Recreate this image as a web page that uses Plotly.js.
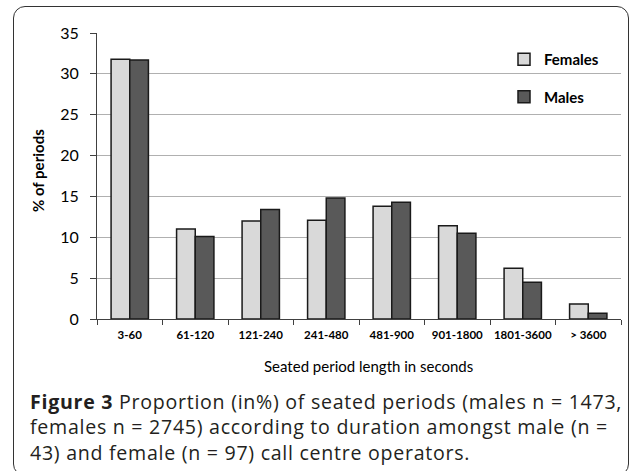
<!DOCTYPE html>
<html>
<head>
<meta charset="utf-8">
<script src="https://cdn.plot.ly/plotly-3.0.1.min.js"></script>
<style>
  html, body { margin: 0; padding: 0; background: #fff; }
  #wrap { position: relative; width: 634px; height: 471px; overflow: hidden; }
  #chart { width: 634px; height: 471px; }
  #frame { position: absolute; left: 13px; top: 6px; width: 616px; height: 470px;
           border: 1.5px solid #333; border-radius: 12px; pointer-events: none; box-sizing: border-box; }
  g.annotation.caption text { letter-spacing: 0.72px; }
</style>
</head>
<body>
<div id="wrap">
  <div id="chart"></div>
  <div id="frame"></div>
</div>
<script>
// ---- data ----
const categories = ["3-60", "61-120", "121-240", "241-480", "481-900", "901-1800", "1801-3600", "> 3600"];
const females = [31.8, 11.0, 12.0, 12.1, 13.8, 11.4, 6.2, 1.85];
const males   = [31.7, 10.1, 13.4, 14.8, 14.3, 10.5, 4.5, 0.7];
const seriesNames = ["Females", "Males"];
const yTickVals = [0, 5, 10, 15, 20, 25, 30, 35];
const xTitle = "Seated period length in seconds";
const yTitle = "% of periods";
const captionLines = [
  "<b>Figure 3</b> Proportion (in%) of seated periods (males n = 1473,",
  "females n = 2745) according to duration amongst male (n =",
  "43) and female (n = 97) call centre operators."
];

// ---- geometry helpers (pixel -> paper) ----
const W = 634, H = 471;
const M = { l: 97, r: 13, t: 33, b: 152 };
const PW = W - M.l - M.r, PH = H - M.t - M.b;
const px = x => (x - M.l) / PW;
const py = y => (H - M.b - y) / PH;

const chartFont = "Lato, 'Open Sans', sans-serif";
const capFont = "'Open Sans', 'Noto Sans', sans-serif";

const traces = [
  { type: "bar", name: seriesNames[0], x: categories, y: females, legendgroup: "f",
    marker: { color: "#d9d9d9", line: { color: "#1a1a1a", width: 1.5 } } },
  { type: "bar", name: seriesNames[1], x: categories, y: males, legendgroup: "m",
    marker: { color: "#595959", line: { color: "#1a1a1a", width: 1.5 } } }
];

const annotations = [
  { text: "<b>" + yTitle + "</b>", xref: "paper", yref: "paper", x: px(38), y: py(171),
    textangle: -90, showarrow: false, xanchor: "center", yanchor: "middle",
    font: { family: chartFont, size: 15, color: "#000" } },
  { text: xTitle, xref: "paper", yref: "paper", x: px(368), y: py(366),
    showarrow: false, xanchor: "center", yanchor: "middle",
    font: { family: chartFont, size: 15, color: "#000" } },
  { text: captionLines.join("<br>"), xref: "paper", yref: "paper", x: px(28), y: py(427),
    showarrow: false, xanchor: "left", yanchor: "middle", align: "left",
    font: { family: capFont, size: 19.6, color: "#231f20" } }
];

const layout = {
  width: W, height: H,
  margin: M,
  paper_bgcolor: "#fff", plot_bgcolor: "#fff",
  barmode: "group", bargap: 0.43, bargroupgap: 0,
  showlegend: true,
  legend: { x: px(504), y: py(43), xanchor: "left", yanchor: "top",
            bgcolor: "rgba(0,0,0,0)", borderwidth: 0, tracegroupgap: 15,
            font: { family: chartFont, size: 15, color: "#000", weight: "bold" } },
  xaxis: {
    type: "category", tickson: "boundaries", ticks: "outside", ticklen: 5, tickwidth: 1,
    tickcolor: "#404040", showline: true, linecolor: "#404040", linewidth: 1,
    showgrid: false, ticklabelstandoff: 5, tickangle: 0,
    tickfont: { family: chartFont, size: 11.5, color: "#000", weight: "bold" },
    fixedrange: true
  },
  yaxis: {
    range: [0, 35], tickvals: yTickVals, ticks: "outside", ticklen: 6, tickwidth: 1,
    tickcolor: "#404040", showline: true, linecolor: "#404040", linewidth: 1,
    showgrid: true, gridcolor: "#b0b0b0", gridwidth: 1, zeroline: false,
    ticklabelstandoff: 8,
    tickfont: { family: chartFont, size: 16, color: "#000" },
    fixedrange: true
  },
  shapes: [
    { type: "rect", layer: "between", xref: "paper", yref: "paper",
      x0: px(501), x1: 1.0, y0: py(132), y1: py(40),
      fillcolor: "#fff", line: { width: 0 } }
  ],
  annotations: annotations
};

Plotly.newPlot("chart", traces, layout, { displayModeBar: false, staticPlot: true }).then(gd => {
  // widen caption tracking slightly to match the reference's typeface width
  const caps = gd.querySelectorAll("g.annotation");
  const cap = caps[caps.length - 1];
  if (cap) cap.classList.add("caption");
});
</script>
</body>
</html>
